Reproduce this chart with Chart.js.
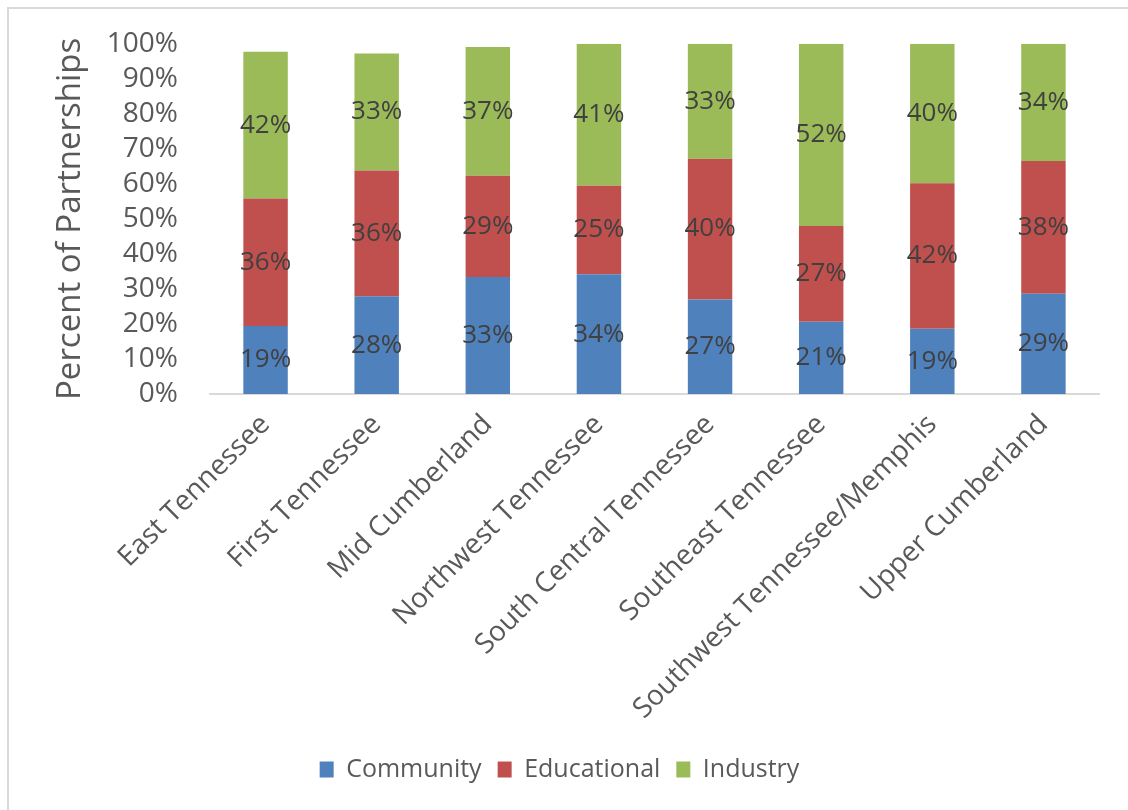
<!DOCTYPE html>
<html>
<head>
<meta charset="utf-8">
<script src="https://cdn.jsdelivr.net/npm/chart.js@4.4.1/dist/chart.umd.min.js"></script>
<style>
  html, body { margin: 0; padding: 0; background: #fff; }
  #wrap { position: relative; width: 1128px; height: 810px; overflow: hidden; }
  #frame {
    position: absolute; left: 7px; top: 7px; width: 1200px; height: 900px;
    border-left: 2px solid #d9d9d9; border-top: 2px solid #d9d9d9;
    pointer-events: none;
  }
  canvas { position: absolute; left: 0; top: -5px; }
</style>
</head>
<body>
<div id="wrap">
  <canvas id="chart" width="1128" height="815"></canvas>
  <div id="frame"></div>
</div>
<script>
// regions on the x axis
const regions = [
    'East Tennessee', 'First Tennessee', 'Mid Cumberland', 'Northwest Tennessee',
    'South Central Tennessee', 'Southeast Tennessee', 'Southwest Tennessee/Memphis', 'Upper Cumberland'
];

// share of partnerships per type (%)
const community   = [19.4, 27.9, 33.4, 34.2, 27.0, 20.6, 18.6, 28.6];
const educational = [36.4, 35.9, 28.9, 25.3, 40.2, 27.4, 41.6, 37.9];
const industry    = [41.9, 33.4, 36.8, 40.5, 32.8, 52.0, 39.8, 33.5];

const yTicks = [0, 10, 20, 30, 40, 50, 60, 70, 80, 90, 100];

const FONT = "'Open Sans', 'Liberation Sans', sans-serif";

// 1. labels in the middle of every segment
const segmentLabels = {
    id: 'segmentLabels',
    afterDatasetsDraw(chart) {
        const ctx = chart.ctx;
        ctx.save();
        ctx.font = '26px ' + FONT;
        ctx.fillStyle = '#404040';
        ctx.textAlign = 'center';
        ctx.textBaseline = 'middle';
        chart.data.datasets.forEach((ds, i) => {
            const meta = chart.getDatasetMeta(i);
            meta.data.forEach((bar, j) => {
                const mid = (bar.y + bar.base) / 2;
                ctx.fillText(Math.round(ds.data[j]) + '%', bar.x, mid);
            });
        });
        ctx.restore();
    }
};

// 2. the chart
const ctx = document.getElementById('chart');
new Chart(ctx, {
    type: 'bar',
    data: {
        labels: regions,
        datasets: [
            { label: 'Community', data: community, backgroundColor: '#4F81BD' },
            { label: 'Educational', data: educational, backgroundColor: '#C0504D' },
            { label: 'Industry', data: industry, backgroundColor: '#9BBB59' }
        ]
    },
    options: {
        responsive: false,
        animation: false,
        devicePixelRatio: 1,
        categoryPercentage: 1,
        barPercentage: 0.4,
        layout: {
            padding: { left: 20, top: 34, right: 29, bottom: 18 }
        },
        plugins: {
            tooltip: { enabled: false },
            legend: {
                position: 'bottom',
                labels: {
                    font: { family: FONT, size: 25 },
                    color: '#595959',
                    boxWidth: 14,
                    boxHeight: 16,
                    padding: 16
                }
            }
        },
        scales: {
            x: {
                stacked: true,
                afterFit: function (scale) { scale.height = 347; },
                grid: { display: false, drawTicks: false },
                border: { display: true, color: '#d9d9d9', width: 2 },
                ticks: {
                    minRotation: 45,
                    maxRotation: 45,
                    padding: 14,
                    color: '#595959',
                    font: { family: FONT, size: 28 }
                }
            },
            y: {
                stacked: true,
                min: 0,
                max: 100,
                afterFit: function (scale) { scale.width = 190; },
                afterBuildTicks: function (scale) {
                    scale.ticks = yTicks.map(v => ({ value: v }));
                },
                grid: { display: false, drawTicks: false },
                border: { display: false },
                title: {
                    display: true,
                    text: 'Percent of Partnerships',
                    color: '#595959',
                    font: { family: FONT, size: 33 },
                    padding: { top: 31, bottom: 4 }
                },
                ticks: {
                    autoSkip: false,
                    padding: 32,
                    color: '#595959',
                    font: { family: FONT, size: 28 },
                    callback: function (value) {
                        return value + '%';
                    }
                }
            }
        }
    },
    plugins: [segmentLabels]
});
</script>
</body>
</html>
